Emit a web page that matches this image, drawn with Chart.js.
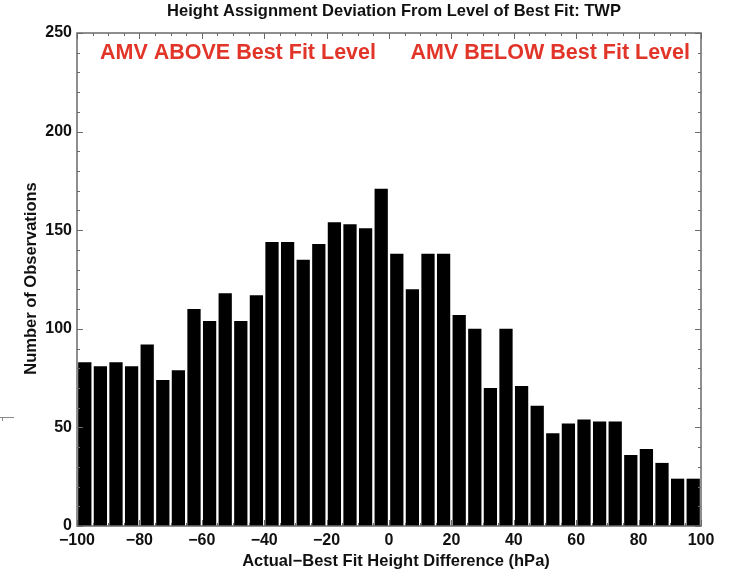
<!DOCTYPE html>
<html>
<head>
<meta charset="utf-8">
<script src="https://cdn.jsdelivr.net/npm/chart.js@4/dist/chart.umd.min.js"></script>
<style>
  html, body { margin: 0; padding: 0; background: #ffffff; }
  #wrap { width: 729px; height: 570px; position: relative; }
</style>
</head>
<body>
<div id="wrap"><canvas id="hist"></canvas></div>
<script>
// Histogram bins (hPa, bin centres, 5 hPa wide) and counts per bin
const binCenters = [
  -97.5, -92.5, -87.5, -82.5, -77.5, -72.5, -67.5, -62.5, -57.5, -52.5,
  -47.5, -42.5, -37.5, -32.5, -27.5, -22.5, -17.5, -12.5,  -7.5,  -2.5,
    2.5,   7.5,  12.5,  17.5,  22.5,  27.5,  32.5,  37.5,  42.5,  47.5,
   52.5,  57.5,  62.5,  67.5,  72.5,  77.5,  82.5,  87.5,  92.5,  97.5
];
const counts = [
   83,  81,  83,  81,  92,  74,  79, 110, 104, 118,
  104, 117, 144, 144, 135, 143, 154, 153, 151, 171,
  138, 120, 138, 138, 107, 100,  70, 100,  71,  61,
   47,  52,  54,  53,  53,  36,  39,  32,  24,  24
];
const xTicks = [-100, -80, -60, -40, -20, 0, 20, 40, 60, 80, 100];
const yTicks = [0, 50, 100, 150, 200, 250];

const chartTitle = 'Height Assignment Deviation From Level of Best Fit: TWP';
const leftNote = 'AMV ABOVE Best Fit Level';
const rightNote = 'AMV BELOW Best Fit Level';
const xTitle = 'Actual\u2212Best Fit Height Difference (hPa)';
const yTitle = 'Number of Observations';

const FONT = '"Liberation Sans", Arial, Helvetica, sans-serif';
const AXIS_COLOR = '#6a6a6a';
const TEXT_COLOR = '#111111';
const NOTE_COLOR = '#e2352a';

const fmt = v => (v < 0 ? '\u2212' + Math.abs(v) : String(v));

// Frame, inward tick marks and all free text
const decorations = {
  id: 'decorations',
  afterDatasetsDraw(chart) {
    const { ctx, chartArea: a, scales } = chart;
    const xs = scales.x, ys = scales.y;
    ctx.save();

    // inward ticks: x minor every 5, major every 20; y minor every 10, major every 50
    ctx.strokeStyle = AXIS_COLOR;
    ctx.lineWidth = 1;
    ctx.beginPath();
    for (let v = -100; v <= 100; v += 5) {
      const px = Math.round(xs.getPixelForValue(v)) + 0.5;
      const len = v % 20 === 0 ? 6 : 3;
      ctx.moveTo(px, a.top); ctx.lineTo(px, a.top + len);
      ctx.moveTo(px, a.bottom); ctx.lineTo(px, a.bottom - len);
    }
    for (let v = 0; v <= 250; v += 10) {
      const py = Math.round(ys.getPixelForValue(v)) + 0.5;
      const len = v % 50 === 0 ? 6 : 3;
      ctx.moveTo(a.left, py); ctx.lineTo(a.left + len, py);
      ctx.moveTo(a.right, py); ctx.lineTo(a.right - len, py);
    }
    ctx.stroke();

    // plot frame
    ctx.lineWidth = 1.5;
    ctx.strokeRect(a.left, a.top, a.right - a.left, a.bottom - a.top);

    // small mark at the far left edge
    ctx.lineWidth = 1;
    ctx.strokeStyle = '#8a8a8a';
    ctx.beginPath();
    ctx.moveTo(0, 417.5); ctx.lineTo(14, 417.5);
    ctx.moveTo(2.5, 417.5); ctx.lineTo(2.5, 421);
    ctx.stroke();

    // title
    ctx.fillStyle = TEXT_COLOR;
    ctx.font = 'bold 16.5px ' + FONT;
    ctx.textAlign = 'center';
    ctx.textBaseline = 'alphabetic';
    ctx.fillText(chartTitle, 394, 16);

    // x axis title
    ctx.fillText(xTitle, 396, 566);

    // y axis title
    ctx.save();
    ctx.translate(36, (a.top + a.bottom) / 2 - 1);
    ctx.rotate(-Math.PI / 2);
    ctx.fillText(yTitle, 0, 0);
    ctx.restore();

    // region notes
    ctx.fillStyle = NOTE_COLOR;
    ctx.font = 'bold 21.5px ' + FONT;
    ctx.textAlign = 'left';
    ctx.fillText(leftNote, 100, 59);
    ctx.textAlign = 'right';
    ctx.fillText(rightNote, 690, 59);

    ctx.restore();
  }
};

new Chart(document.getElementById('hist'), {
  type: 'bar',
  data: {
    datasets: [{
      data: binCenters.map((x, i) => ({ x, y: counts[i] })),
      backgroundColor: '#000000',
      borderWidth: 0,
      categoryPercentage: 1.0,
      barPercentage: 0.85
    }]
  },
  options: {
    responsive: true,
    maintainAspectRatio: false,
    animation: false,
    layout: { padding: { top: 33, right: 28, left: 0, bottom: 0 } },
    plugins: {
      legend: { display: false },
      tooltip: { enabled: false },
      title: { display: false }
    },
    scales: {
      x: {
        type: 'linear',
        min: -100,
        max: 100,
        offset: false,
        grid: { display: false, offset: false, drawTicks: false },
        border: { display: false },
        afterBuildTicks: s => { s.ticks = xTicks.map(v => ({ value: v })); },
        afterFit: s => { s.height = 44; },
        ticks: {
          autoSkip: false,
          maxRotation: 0,
          padding: 5,
          color: TEXT_COLOR,
          font: { family: FONT, size: 16, weight: 'bold' },
          callback: v => fmt(v)
        }
      },
      y: {
        min: 0,
        max: 250,
        grid: { display: false, drawTicks: false },
        border: { display: false },
        afterBuildTicks: s => { s.ticks = yTicks.map(v => ({ value: v })); },
        afterFit: s => { s.width = 77; },
        ticks: {
          padding: 5,
          color: TEXT_COLOR,
          font: { family: FONT, size: 16, weight: 'bold' },
          callback: v => fmt(v)
        }
      }
    }
  },
  plugins: [decorations]
});
</script>
</body>
</html>
